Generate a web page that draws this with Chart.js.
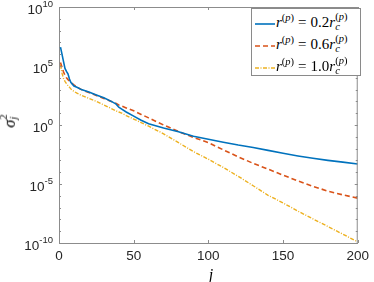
<!DOCTYPE html>
<html><head><meta charset="utf-8">
<script src="https://cdn.jsdelivr.net/npm/chart.js@4/dist/chart.umd.min.js"></script>
<style>
html,body{margin:0;padding:0;background:#fff;}
#wrap{position:relative;width:374px;height:282px;overflow:hidden;background:#fff;}
#c{position:absolute;left:0;top:0;}
#legend{position:absolute;left:251px;top:8px;width:108px;height:66px;border:1px solid #8a8a8a;background:#fff;font-family:'Liberation Serif','DejaVu Serif',serif;font-size:15px;color:#000;}
.row{position:absolute;left:0;height:22px;display:flex;align-items:center;white-space:nowrap;}
.row svg{margin-left:3px;margin-right:1px;}
.sp{font-size:10.5px;position:relative;top:-6px;}
.ss{display:inline-flex;flex-direction:column;font-size:10.5px;line-height:10px;vertical-align:middle;position:relative;top:-2px;}
.eq{margin:0 4px;}
#ytitle{position:absolute;left:11px;top:121px;transform:translate(-50%,-50%) rotate(-90deg);font-family:'Liberation Serif','DejaVu Serif',serif;font-size:16px;white-space:nowrap;color:#000;}
#xtitle{position:absolute;left:211px;top:275px;transform:translate(-50%,-50%);font-family:'Liberation Serif','DejaVu Serif',serif;font-size:16px;font-style:italic;color:#000;}
</style></head>
<body>
<div id="wrap">
<canvas id="c" width="374" height="282"></canvas>
<div id="legend"></div>
<div id="ytitle"><i>σ</i><span class="ss"><span>2</span><span><i>j</i></span></span></div>
<div id="xtitle">j</div>
</div>
<script>
// ---- data ----
const jIndex = [1,2,3,4,5,6,7,8,10,12,15,20,25,30,35,38,40,42,45,50,55,60,70,80,90,100,110,120,130,140,150,160,170,180,190,200];
const sigmaR02 = [4.0e6,1.0e6,2.5e5,6.3e4,3.5e4,2.2e4,7.9e3,4.0e3,2.0e3,1.6e3,1.0e3,6.3e2,3.5e2,2.0e2,1.0e2,63,32,22,12.6,5.6,2.5,1.26,0.56,0.27,0.11,0.063,0.035,0.02,0.0126,7.1e-3,4.0e-3,2.4e-3,1.5e-3,1.0e-3,7.1e-4,5.0e-4];
const sigmaR06 = [2.0e5,7.9e4,3.2e4,1.6e4,1.0e4,7.1e3,5.6e3,4.0e3,2.5e3,1.6e3,1.0e3,5.6e2,3.2e2,1.8e2,1.0e2,70,50,40,28,16,7.9,4.0,1.0,0.28,0.089,0.032,7.9e-3,2.0e-3,5.6e-4,1.8e-4,5.6e-5,1.8e-5,6.3e-6,2.5e-6,1.2e-6,6.3e-7];
const sigmaR10 = [1.26e5,2.5e4,8.9e3,5.0e3,3.2e3,2.2e3,1.6e3,1.1e3,7.1e2,5.0e2,3.2e2,1.8e2,1.0e2,50,25,16,12.6,10,6.3,3.2,1.6,0.79,0.18,0.032,5.6e-3,1.26e-3,2.5e-4,4.5e-5,7.1e-6,1.1e-6,2.5e-7,5.0e-8,1.1e-8,2.5e-9,5.6e-10,1.26e-10];
const seriesFactors = ['0.2','0.6','1.0'];
const xTickValues = [0,50,100,150,200];
const yTickExponents = [-10,-5,0,5,10];

const colors = ['#0072BD','#D95319','#EDB120'];
const dashes = [[],[5,3],[4,1.5,1,1.5]];
const widths = [1.6,1.6,1.4];
const axisColor = '#8c8c8c';
const tickColor = '#262626';
const sansFamily = "'Liberation Sans', Arial, sans-serif";

const series = [sigmaR02, sigmaR06, sigmaR10];
const datasets = series.map((vals, i) => ({
  label: 'r(p) = ' + seriesFactors[i] + 'rc(p)',
  data: jIndex.map((jj, k) => ({x: jj, y: vals[k]})),
  borderColor: colors[i],
  borderWidth: widths[i],
  borderDash: dashes[i],
  pointRadius: 0,
  tension: 0,
  fill: false
}));

const boxPlugin = {
  id: 'box',
  afterDatasetsDraw(chart) {
    const {ctx, chartArea: a, scales: {x, y}} = chart;
    ctx.save();
    ctx.strokeStyle = axisColor;
    ctx.lineWidth = 1;
    ctx.setLineDash([]);
    ctx.beginPath();
    ctx.moveTo(a.left, a.top + 0.5); ctx.lineTo(a.right, a.top + 0.5);
    ctx.moveTo(a.right - 0.5, a.top); ctx.lineTo(a.right - 0.5, a.bottom);
    xTickValues.forEach(v => {
      const px = Math.round(x.getPixelForValue(v)) + 0.5;
      ctx.moveTo(px, a.bottom); ctx.lineTo(px, a.bottom - 3);
      ctx.moveTo(px, a.top); ctx.lineTo(px, a.top + 3);
    });
    const lo = yTickExponents[0], hi = yTickExponents[yTickExponents.length - 1];
    for (let e = lo; e <= hi; e++) {
      const py = Math.round(y.getPixelForValue(Math.pow(10, e))) + 0.5;
      const len = yTickExponents.includes(e) ? 3 : 2;
      ctx.moveTo(a.left, py); ctx.lineTo(a.left + len, py);
      ctx.moveTo(a.right, py); ctx.lineTo(a.right - len, py);
    }
    ctx.stroke();
    // y tick labels: 10 with raised exponent
    ctx.fillStyle = tickColor;
    ctx.textBaseline = 'alphabetic';
    ctx.textAlign = 'left';
    y.ticks.forEach(t => {
      const e = Math.round(Math.log10(t.value));
      const py = y.getPixelForValue(t.value);
      const expText = String(e);
      ctx.font = '9.5px ' + sansFamily;
      const ew = ctx.measureText(expText).width;
      ctx.font = '13.5px ' + sansFamily;
      const bw = ctx.measureText('10').width;
      const right = a.left - 6;
      ctx.fillText('10', right - ew - bw, py + 6.5);
      ctx.font = '9.5px ' + sansFamily;
      ctx.fillText(expText, right - ew, py - 0.5);
    });
    ctx.restore();
  }
};

const tickFont = {family: sansFamily, size: 13.5};

new Chart(document.getElementById('c'), {
  type: 'line',
  data: {datasets},
  options: {
    responsive: false,
    devicePixelRatio: 1,
    animation: false,
    layout: {padding: {top: 7, right: 12, left: 0, bottom: 0}},
    plugins: {legend: {display: false}, tooltip: {enabled: false}},
    scales: {
      x: {
        type: 'linear', min: 0, max: 200,
        grid: {display: false, drawTicks: false},
        border: {display: true, color: axisColor, width: 1},
        afterBuildTicks: s => { s.ticks = xTickValues.map(v => ({value: v})); },
        afterFit: s => { s.height = 39; },
        ticks: {color: tickColor, font: tickFont, padding: 5, maxRotation: 0,
                callback: v => String(v)}
      },
      y: {
        type: 'logarithmic', min: 1e-10, max: 1e10,
        grid: {display: false, drawTicks: false},
        border: {display: true, color: axisColor, width: 1},
        afterBuildTicks: s => { s.ticks = yTickExponents.map(e => ({value: Math.pow(10, e)})); },
        afterFit: s => { s.width = 59; },
        ticks: {display: false}
      }
    }
  },
  plugins: [boxPlugin]
});

// legend (HTML, real text)
const legend = document.getElementById('legend');
seriesFactors.forEach((f, i) => {
  const row = document.createElement('div');
  row.className = 'row';
  row.style.top = (4 + i * 22) + 'px';
  const da = dashes[i].length ? dashes[i].join(',') : 'none';
  row.innerHTML = '<svg width="20" height="6"><line x1="0" y1="3" x2="20" y2="3" stroke="' + colors[i] +
    '" stroke-width="1.6" stroke-dasharray="' + da + '"/></svg>' +
    '<span><i>r</i><span class="sp">(<i>p</i>)</span><span class="eq">=</span>' + f +
    '<i>r</i><span class="ss"><span>(<i>p</i>)</span><span><i>c</i></span></span></span>';
  legend.appendChild(row);
});
</script>
</body></html>
